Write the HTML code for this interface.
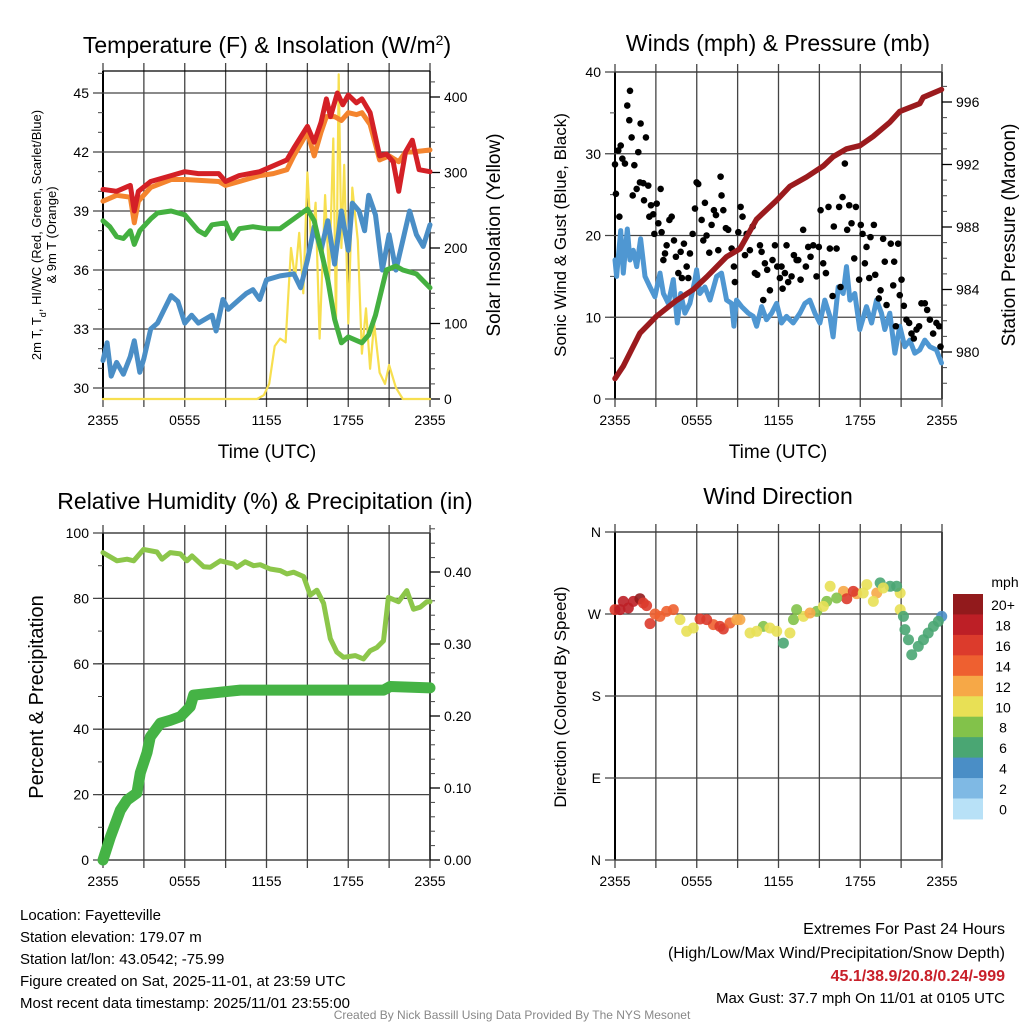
<!DOCTYPE html>
<html><head><meta charset="utf-8">
<style>
html,body{margin:0;padding:0;background:#fff;}
svg{display:block;font-family:"Liberation Sans",Arial,sans-serif;}
</style></head>
<body>
<svg id="root" width="1024" height="1024" viewBox="0 0 1024 1024" xmlns="http://www.w3.org/2000/svg"></svg>
<script>
// ---------- data ----------
const xTickLabels = ["2355","0555","1155","1755","2355"];
const xTickHours = [0,6,12,18,24];
// Temperature panel
const redT = [0,1,2,2.3,2.6,3.5,5,6,7,8.5,9,10,11.5,12.5,13.5,14,15,15.5,16,16.4,16.7,17.2,17.6,18,18.6,19,19.6,20.3,20.8,21.3,21.7,22.2,22.7,23.2,24];
const redV = [40.1,40.0,40.3,39.0,40.0,40.5,40.8,41.0,40.9,40.9,40.5,40.8,41.0,41.3,41.6,42.2,43.3,42.5,43.5,44.7,43.8,45.0,44.4,44.9,44.5,44.7,44.0,41.8,41.9,41.5,40.0,42.0,42.6,41.1,41.0];
const orT = [0,1,2,2.3,2.6,3.5,5,6,8.5,9,10,11.5,12.5,13.5,14,15,15.5,16,16.4,17,17.5,18,18.6,19,19.6,20.3,21,21.7,22.2,22.7,24];
const orV = [39.5,39.8,39.7,38.4,39.5,40.2,40.6,40.6,40.5,40.3,40.5,40.8,40.9,41.1,41.8,43.0,41.8,43.0,43.8,43.8,43.6,44.0,43.9,44.0,43.4,41.6,41.8,41.5,42.0,42.0,42.1];
const grT = [0,0.5,1,1.5,2,2.3,2.7,3.5,4,5,6,7,7.5,8,9,9.5,10,11,12,13,14,15,15.5,16,16.5,17,17.5,18,19,19.5,20,20.8,21.5,22,23,24];
const grV = [38.5,38.2,37.7,37.6,38.0,37.3,38.0,38.6,38.9,39.0,38.8,38.0,37.8,38.3,38.4,37.6,38.1,38.2,38.1,38.1,38.6,39.1,38.5,37.0,35.5,33.5,32.3,32.6,32.3,32.7,33.7,36.0,36.2,36.0,35.8,35.1];
const blT = [0,0.3,0.6,1,1.5,2,2.3,2.7,3,3.5,4,4.5,5,5.5,6,6.5,7,8,8.3,8.8,9.2,10,10.5,11,11.5,12,13,14,14.5,15,15.5,16,16.5,17,17.5,18,18.3,18.8,19.2,19.5,20,20.5,21,21.5,22,22.5,23,23.5,24];
const blV = [31.4,32.3,30.6,31.3,30.7,31.6,32.4,30.8,31.5,33.0,33.3,34.0,34.7,34.4,33.3,33.7,33.3,33.7,32.9,34.5,34.0,34.5,34.8,35.0,34.5,35.5,35.7,35.8,35.1,36.5,38.2,37.0,38.5,36.3,39.0,37.0,39.4,39.0,38.0,39.8,38.8,36.0,37.8,36.0,37.5,39.0,37.8,37.2,38.3];
const solT = [0,11.3,11.8,12.2,12.6,13,13.4,13.8,14.1,14.4,14.7,15,15.3,15.6,15.9,16.3,16.6,16.9,17.1,17.3,17.5,17.7,18,18.3,18.7,19,19.3,19.6,19.9,20.3,20.7,21,21.5,22,24];
const solV = [0,0,5,20,70,80,75,200,160,220,140,300,200,260,80,270,160,345,100,430,200,310,100,280,210,60,120,40,100,35,20,45,15,0,0];
// Winds panel
const windT = [0,0.12,0.42,0.61,0.9,1.1,1.34,1.59,1.88,2.2,2.57,2.93,3.3,3.55,3.91,4.28,4.57,4.82,5.13,5.5,5.87,5.99,6.23,6.6,6.97,7.46,7.82,8.19,8.56,8.73,8.92,9.29,9.78,10.15,10.39,10.76,11.12,11.49,11.86,12.22,12.59,13.08,13.57,13.94,14.3,14.67,15.04,15.4,15.77,16.01,16.38,16.75,16.99,17.24,17.6,17.97,18.46,18.83,19.19,19.56,19.8,20.17,20.54,20.9,21.27,21.64,22.0,22.37,22.74,23.11,23.59,23.96];
const windV = [17,15,20.6,15.4,20.8,17,18.2,16.2,19.6,15,13.7,12.5,15.4,12.9,11.7,14.6,9.3,12.9,10.5,11.7,14.6,15.8,12.9,13.7,12.1,15,15.4,12.1,11.7,8.9,12.1,11.3,10.5,10.1,8.9,11.3,9.7,10.5,11.7,9.3,10.1,9.3,10.5,11.7,12.1,10.5,9.3,12.1,10.1,7.6,13.7,12.9,16.2,12.1,12.9,8.5,11.3,9.3,12.1,10.5,8.5,10.5,5.6,8.9,6.4,7.2,5.6,6.0,7.2,6.4,6.0,4.4];
const gustT = [0,0.07,0.24,0.32,0.42,0.54,0.73,0.9,1.05,1.1,
1.22,1.3,1.42,1.59,1.71,1.83,1.88,2.08,2.13,2.27,
2.44,2.52,2.64,2.81,2.89,3.06,3.18,3.35,3.42,3.55,
3.67,3.79,3.99,4.16,4.33,4.47,4.65,4.82,4.91,5.06,
5.26,5.38,5.5,5.7,5.87,5.99,6.11,6.36,6.48,6.6,
6.72,6.92,7.09,7.26,7.41,7.58,7.75,7.82,7.95,8.14,
8.31,8.56,8.73,8.8,9.05,9.22,9.36,9.54,9.66,9.9,
10.1,10.27,10.44,10.64,10.76,10.88,11.0,11.17,11.37,11.56,
11.74,11.91,12.1,12.22,12.3,12.47,12.59,12.71,12.96,13.13,
13.33,13.45,13.62,13.81,14.01,14.18,14.35,14.55,14.79,14.96,
15.09,15.28,15.48,15.67,15.77,15.97,16.06,16.26,16.45,16.55,
16.7,16.87,17.04,17.19,17.36,17.56,17.68,17.92,18.04,18.17,
18.34,18.46,18.66,18.75,19.0,19.1,19.36,19.49,19.68,19.8,
19.93,20.24,20.42,20.49,20.61,20.78,20.9,21.03,21.2,21.39,
21.59,21.76,21.93,22.13,22.32,22.49,22.74,22.91,23.11,23.35,
23.59,23.79,23.89];
const gustV = [28.7,25.1,30.4,22.3,31.0,29.4,28.8,35.9,34.1,37.7,
32.0,24.9,28.6,25.7,30.2,26.5,33.7,26.4,24.3,32.0,
26.1,22.3,23.7,22.6,20.2,23.9,21.5,25.7,20.4,17.0,
17.8,18.8,21.9,22.3,19.4,17.4,15.4,18.0,14.8,19.0,
16.2,14.8,17.8,20.2,23.3,26.5,26.3,21.9,19.4,24.0,
20.0,17.9,21.3,23.1,22.5,18.2,27.2,24.9,23.1,20.9,
20.7,18.4,16.2,14.3,20.4,23.5,22.3,17.6,20.2,18.2,
21.1,15.4,15.2,18.8,18.0,12.1,16.6,15.8,13.3,17.0,
18.8,16.2,14.8,16.2,13.5,15.4,18.8,14.3,15.0,17.6,
17.0,17.0,14.6,20.7,16.2,18.6,17.4,18.8,15.0,18.6,
23.1,16.6,15.4,23.5,18.4,12.6,21.1,18.4,23.5,13.7,
24.7,28.8,20.7,23.7,21.5,17.2,23.5,14.6,21.3,20.2,
16.6,18.6,14.8,19.8,21.3,15.2,12.3,13.3,19.6,16.8,
11.5,19.0,13.9,16.8,8.9,19.0,12.7,14.6,11.4,9.7,
9.3,8.0,7.4,8.5,8.9,11.7,11.7,10.9,9.7,8.0,
9.3,8.9,6.4];
const presT = [0,0.61,1.83,3.06,4.52,5.75,6.72,8.19,9.17,10.39,11.86,12.84,14.06,15.28,16.01,16.99,17.97,18.95,20.17,20.9,22.37,22.62,23.96];
const presV = [978.3,979.1,981.2,982.3,983.3,984.0,984.8,986.1,986.6,988.5,989.7,990.6,991.2,991.9,992.5,993.0,993.2,993.8,994.7,995.4,995.9,996.3,996.8];
// RH / precip panel
const rhT = [0,1.03,1.76,2.25,2.98,3.96,4.33,4.94,5.67,6.16,6.53,7.38,7.87,8.61,9.59,9.83,10.44,11.05,11.54,12.27,13.01,13.5,13.99,14.72,15.21,15.7,16.19,16.68,17.16,17.65,18.51,19.12,19.61,20.1,20.59,20.95,21.69,22.3,22.79,23.28,23.77,24];
const rhV = [94,91.5,92,91.5,95,94.2,92,94,93.6,91.5,93,89.7,89.5,91.5,90.5,89.5,91.2,90,90.3,89,88.5,87.5,88,86.7,81,82.5,78.5,67.7,63.6,62,62.5,61.5,64,65,67,80.3,79,82.4,76.7,77.3,79,79];
const prT = [0,0.54,1.27,1.76,2.49,2.74,3.23,3.47,4.21,4.94,5.67,6.41,6.65,8.61,10.08,20.59,21.08,24];
const prV = [0,0.032,0.069,0.083,0.093,0.121,0.149,0.171,0.19,0.194,0.199,0.213,0.229,0.233,0.236,0.236,0.241,0.239];
// Wind direction panel
const dirT = [0,0.61,1.35,1.83,2.32,2.57,3.3,4.28,5.26,6.24,7.22,7.95,9.17,9.91,10.89,11.87,12.36,13.1,13.83,14.81,15.54,15.79,16.77,17.01,17.74,18.48,19.21,19.46,20.19,20.93,20.93,21.17,21.54,21.78,22.64,23.37,23.98,
0.37,0.98,2.08,2.94,3.79,4.77,5.75,6.73,7.7,8.44,8.93,10.4,11.37,12.84,13.33,14.31,15.29,16.27,17.49,18.22,18.96,19.69,20.67,21.28,22.26,22.99,23.73];
const dirDeg = [274.8,283.9,283.9,286.8,279.2,259.4,267.4,274.8,251,264.5,258.3,253.5,263.8,249.1,256.4,251,238.1,263.8,267.4,272.9,283.9,300.4,294.9,286.8,292.3,302.2,293.1,304.1,300.4,293.1,274.8,267.4,241.8,225.3,241.8,256.4,267.4,
274.8,276.6,282.1,270,272.9,263.8,254.6,263.8,256.4,260.1,263.8,251,254.6,249.1,274.8,271.1,278.4,287.6,294.9,293.1,283.9,298.6,300.4,252.8,234.5,249.1,261.9];
const dirSpd = [16,19,18,20,16,16,14,14,10,16,14,16,12,10,8,10,7,8,11,8,9,10,13,17,13,10,12,7,7,10,10,6,6,6,7,6,4,
18,18,16,14,14,11,11,16,16,14,12,10,10,11,8,12,10,8,16,10,11,10,7,6,6,7,6];
const cbLabels = ["20+","18","16","14","12","10","8","6","4","2","0"];
const cbColors = ["#921a1c","#bd1f26","#dc3b2c","#ee6030","#f6a847","#e8e055","#82c24a","#4aa673","#4a8ec6","#7fb9e4","#b8e1f7"];

// ---------- helpers ----------
const NS="http://www.w3.org/2000/svg";
const root=document.getElementById('root');
function mk(tag,attrs,parent){const e=document.createElementNS(NS,tag);for(const k in attrs)e.setAttribute(k,attrs[k]);(parent||root).appendChild(e);return e;}
function txt(x,y,s,size,anchor,extra){const e=mk('text',Object.assign({x:x,y:y,'font-size':size,'text-anchor':anchor||'middle',fill:'#000'},extra||{}));e.textContent=s;return e;}
function lin(a0,a1,p0,p1){return v=>p0+(v-a0)/(a1-a0)*(p1-p0);}

function frame(P,name){
  for(let h=0;h<=24;h+=3){
    const l=mk('line',{x1:P.x(h),x2:P.x(h),y1:P.top-8,y2:P.bot+8,stroke:'#444','stroke-width':1.3});
    
    
  }
  xTickLabels.forEach((s,i)=>{
    const t=txt(P.x(xTickHours[i]),P.bot+26,s,14);
    
    
  });
  const b=mk('line',{x1:P.x0,x2:P.x0,y1:P.top,y2:P.bot,stroke:'#000','stroke-width':2});
  
  
  const r=mk('line',{x1:P.x1,x2:P.x1,y1:P.top,y2:P.bot,stroke:'#000','stroke-width':1.3});
  
  
  const tp=mk('line',{x1:P.x0,x2:P.x1,y1:P.top,y2:P.top,stroke:'#000','stroke-width':1.3});
  
  
  const bt=mk('line',{x1:P.x0,x2:P.x1,y1:P.bot,y2:P.bot,stroke:'#000','stroke-width':1.3});
  
  
}
function leftAxis(P,vals,labels,minors,name){
  minors.forEach(v=>{const l=mk('line',{x1:P.x0-5,x2:P.x0,y1:P.yl(v),y2:P.yl(v),stroke:'#444','stroke-width':1});
    
    });
  vals.forEach((v,i)=>{
    const g=mk('line',{x1:P.x0-10,x2:P.x1,y1:P.yl(v),y2:P.yl(v),stroke:'#444','stroke-width':1.3});
    
    
    const t=txt(P.x0-14,P.yl(v)+5,labels[i],14,'end');
    
    
  });
}
function rightAxis(P,vals,labels,minors,name){
  minors.forEach(v=>{const l=mk('line',{x1:P.x1,x2:P.x1+5,y1:P.yr(v),y2:P.yr(v),stroke:'#444','stroke-width':1});
    
    });
  vals.forEach((v,i)=>{
    const l=mk('line',{x1:P.x1,x2:P.x1+10,y1:P.yr(v),y2:P.yr(v),stroke:'#000','stroke-width':1.3});
    
    
    const t=txt(P.x1+14,P.yr(v)+5,labels[i],14,'start');
    
    
  });
}
function poly(P,ts,vs,yf,color,w,name){
  const pts=ts.map((t,i)=>P.x(t).toFixed(1)+','+yf(vs[i]).toFixed(1)).join(' ');
  const p=mk('polyline',{points:pts,fill:'none',stroke:color,'stroke-width':w,'stroke-linejoin':'round','stroke-linecap':'round'});
  
  
  return p;
}
function range(a,b,s){const r=[];for(let v=a;v<=b+1e-9;v+=s)r.push(+v.toFixed(4));return r;}

// ---------- Panel 1: temperature ----------
const P1={x0:103,x1:430,top:71,bot:399};
P1.x=lin(0,24,P1.x0,P1.x1); P1.yl=lin(30,45,388,93); P1.yr=lin(0,100,399,323.5);
frame(P1,'temp');
leftAxis(P1,[30,33,36,39,42,45],["30","33","36","39","42","45"],range(30,46,1),'temp');
rightAxis(P1,[0,100,200,300,400],["0","100","200","300","400"],range(0,420,20),'temp');
poly(P1,solT,solV,P1.yr,'#f7df4f',2.2,'insolation-line');
poly(P1,blT,blV,P1.yl,'#4a8ec6',5,'heat-index-windchill-line');
poly(P1,grT,grV,P1.yl,'#44b040',5,'dewpoint-line');
poly(P1,orT,orV,P1.yl,'#f4842e',5,'temp-9m-line');
poly(P1,redT,redV,P1.yl,'#d42026',5,'temp-2m-line');

// ---------- Panel 2: winds ----------
const P2={x0:615,x1:942,top:72,bot:399};
P2.x=lin(0,24,P2.x0,P2.x1); P2.yl=lin(0,40,399,72); P2.yr=lin(980,996,352,102);
frame(P2,'winds');
leftAxis(P2,[0,10,20,30,40],["0","10","20","30","40"],range(0,40,5),'winds');
rightAxis(P2,[980,984,988,992,996],["980","984","988","992","996"],range(978,997,1),'winds');
poly(P2,windT,windV,P2.yl,'#4f97d2',5,'sustained-wind-line');
gustT.forEach((t,i)=>{
  const c=mk('circle',{cx:P2.x(t),cy:P2.yl(gustV[i]),r:3.3,fill:'#000'});
  
  
});
poly(P2,presT,presV,P2.yr,'#9b1b1e',5.5,'pressure-line');

// ---------- Panel 3: RH & precip ----------
const P3={x0:103,x1:430,top:533,bot:860};
P3.x=lin(0,24,P3.x0,P3.x1); P3.yl=lin(0,100,860,533); P3.yr=lin(0,0.4,860,572);
frame(P3,'rh');
leftAxis(P3,[0,20,40,60,80,100],["0","20","40","60","80","100"],range(0,100,10),'rh');
rightAxis(P3,[0,0.1,0.2,0.3,0.4],["0.00","0.10","0.20","0.30","0.40"],range(0,0.46,0.02),'rh');
poly(P3,rhT,rhV,P3.yl,'#8cc64a',5,'relative-humidity-line');
poly(P3,prT,prV,P3.yr,'#45b345',11,'precipitation-line');

// ---------- Panel 4: wind direction ----------
const P4={x0:615,x1:942,top:532,bot:860};
P4.x=lin(0,24,P4.x0,P4.x1); P4.yl=lin(0,360,860,532);
frame(P4,'direction');
leftAxis(P4,[0,90,180,270,360],["N","E","S","W","N"],[],'direction');
function spdColor(s){let k=Math.floor(s/2);if(k>10)k=10;return cbColors[10-k];}
dirT.forEach((t,i)=>{
  const c=mk('circle',{cx:P4.x(t),cy:P4.yl(dirDeg[i]),r:5.5,fill:spdColor(dirSpd[i]),'fill-opacity':0.9});
  
  
});
const cbx=953,cby=594,cbh=20.45;
cbLabels.forEach((s,i)=>{
  const r=mk('rect',{x:cbx,y:cby+i*cbh,width:30,height:cbh+0.5,fill:cbColors[i]});
  
  
  const t=txt(1003,cby+i*cbh+16,s,14,'middle');
  
  
});
const cbt=txt(1005,587,'mph',14,'middle');



// ---------- titles & axis labels ----------
let e;
e=txt(267,53,'Temperature (F) & Insolation (W/m',23);
const sup=mk('tspan',{'baseline-shift':'super','font-size':14},e);sup.textContent='2';
const cl=mk('tspan',{},e);cl.textContent=')';


e=txt(778,51,'Winds (mph) & Pressure (mb)',23);


e=txt(265,509,'Relative Humidity (%) & Precipitation (in)',23);


e=txt(778,504,'Wind Direction',23);


[[267,'temp'],[778,'winds']].forEach(a=>{
  const t=txt(a[0],458,'Time (UTC)',19);
  
  
});
function vlabel(x,y,s,size,name){const t=txt(x,y,s,size,'middle',{transform:'rotate(-90 '+x+' '+y+')'});
  
  return t;}
e=vlabel(41,235,'',13,'temp-y-axis-title');
e.innerHTML='2m T, T<tspan baseline-shift="sub" font-size="9">d</tspan>, HI/WC (Red, Green, Scarlet/Blue)';
vlabel(56,235,'& 9m T (Orange)',13,'temp-y-axis-title-line2');
vlabel(500,235,'Solar Insolation (Yellow)',19,'insolation-axis-title');
vlabel(566,235,'Sonic Wind & Gust (Blue, Black)',17,'wind-y-axis-title');
vlabel(1015,235,'Station Pressure (Maroon)',19,'pressure-axis-title');
vlabel(43,697,'Percent & Precipitation',20,'rh-y-axis-title');
vlabel(566,697,'Direction (Colored By Speed)',17,'direction-y-axis-title');

// ---------- footer ----------
const left=["Location: Fayetteville","Station elevation: 179.07 m","Station lat/lon: 43.0542; -75.99","Figure created on Sat, 2025-11-01, at 23:59 UTC","Most recent data timestamp: 2025/11/01 23:55:00"];
left.forEach((s,i)=>{const t=txt(20,920+i*22,s,15,'start');
  
  });
e=txt(1005,934,'Extremes For Past 24 Hours',16,'end');


e=txt(1005,958,'(High/Low/Max Wind/Precipitation/Snow Depth)',16,'end');


e=txt(1005,981,'45.1/38.9/20.8/0.24/-999',16,'end',{fill:'#c8202a','font-weight':'bold'});


e=txt(1005,1003,'Max Gust: 37.7 mph On 11/01 at 0105 UTC',15,'end');


e=txt(512,1019,'Created By Nick Bassill Using Data Provided By The NYS Mesonet',12,'middle',{fill:'#888'});


</script>
</body></html>
